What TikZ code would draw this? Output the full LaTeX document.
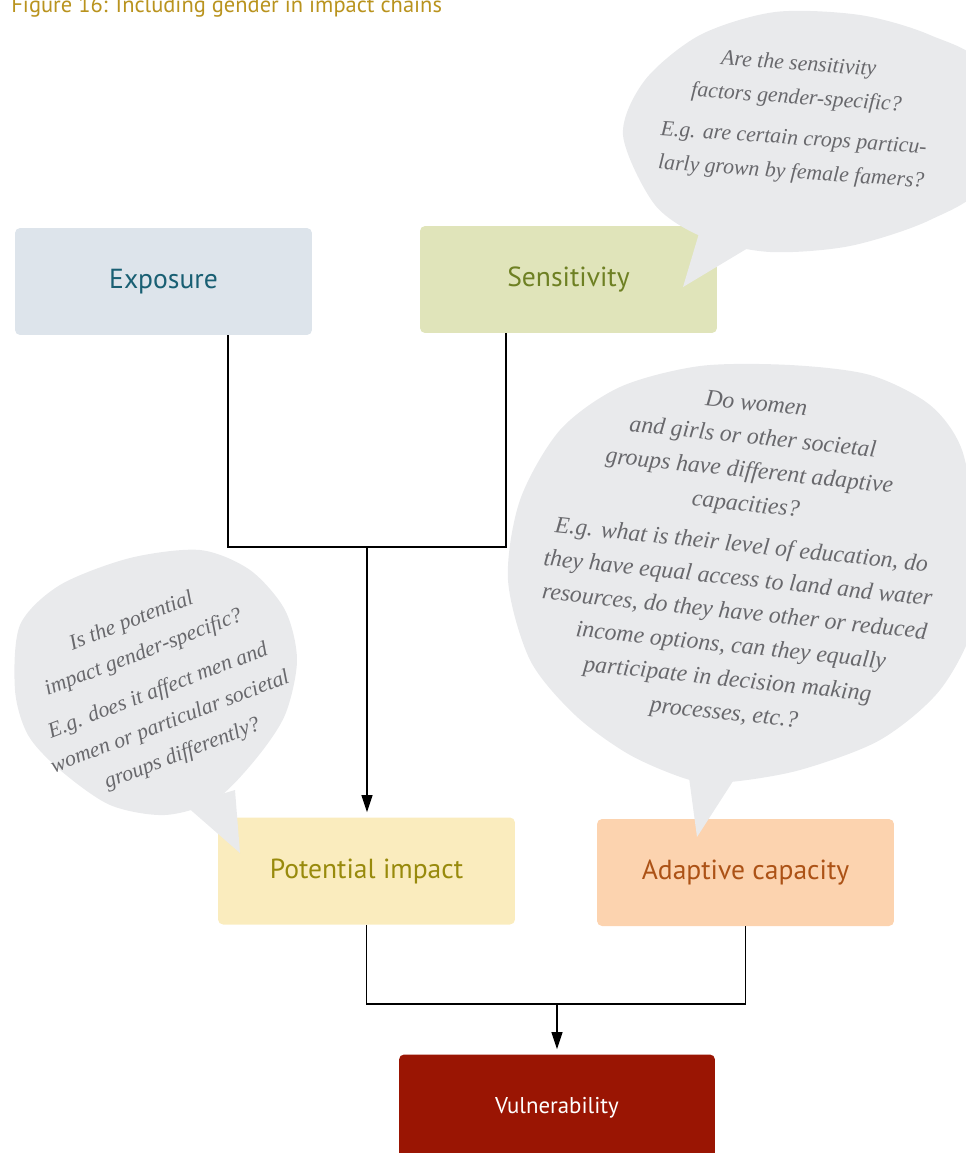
\documentclass[tikz,border=0pt]{standalone}
\usepackage{fontspec}
\setmainfont{Liberation Serif}
\newfontfamily\boxfont{PT Sans}
\usepackage{tikz}
\usetikzlibrary{arrows.meta}
\definecolor{ex}{RGB}{221,228,235}
\definecolor{exd}{RGB}{25,95,115}
\definecolor{se}{RGB}{224,228,186}
\definecolor{sed}{RGB}{110,128,35}
\definecolor{po}{RGB}{250,236,190}
\definecolor{pod}{RGB}{152,138,12}
\definecolor{ad}{RGB}{252,211,175}
\definecolor{add}{RGB}{172,82,22}
\definecolor{vu}{RGB}{154,21,3}
\definecolor{bb}{RGB}{233,234,236}
\definecolor{bbt}{RGB}{104,104,108}
\definecolor{ti}{RGB}{185,147,30}
\def\bubfont{\fontsize{13.5}{19.2}\selectfont\itshape}
\def\smbubfont{\fontsize{12.4}{19.2}\selectfont\itshape}
\def\labfont{\boxfont\fontsize{15.7}{18}\selectfont}
\tikzset{
  box/.style={rounded corners=0.1cm, minimum width=5.94cm, minimum height=2.14cm, inner sep=0pt, font=\labfont},
  bub/.style={align=center, text=bbt, font=\bubfont},
  arr/.style={-{Triangle[length=0.34cm,width=0.22cm]}, shorten >=0.1cm},
  ln/.style={line width=0.6pt}
}

\begin{document}
\begin{tikzpicture}[x=0.02cm,y=-0.02cm]
\useasboundingbox (0,0) rectangle (966,1153);
\node[anchor=base west, inner sep=0pt, text=ti, font=\boxfont\fontsize{12.8}{14}\selectfont] (title) at (11,12) {Figure 16: Including gender in impact chains};
\node[box, fill=ex, text=exd] (expo) at (163.5,281.5) {Exposure};
\node[box, fill=se, text=sed] (sens) at (568.5,279.5) {Sensitivity};
\node[box, fill=po, text=pod] (pot) at (366.5,871) {Potential impact};
\node[box, fill=ad, text=add] (adap) at (745.5,872.5) {Adaptive capacity};
\node[box, fill=vu, text=white, minimum width=6.32cm, font=\boxfont\fontsize{13}{15}\selectfont] (vul) at (557,1108) {Vulnerability};
\coordinate (j1) at (367,547);
\coordinate (j2) at (557,1004);
\draw[ln] ([xshift=1.29cm]expo.south) |- (j1) -| ([xshift=-1.25cm]sens.south);
\draw[ln,arr] (j1) -- (j1 |- pot.north);
\draw[ln] (pot.south) |- (j2) -| (adap.south);
\draw[ln,arr] (j2) -- (j2 |- vul.north);
\fill[bb] plot[smooth cycle] coordinates {(623,135) (645,80) (700,35) (775,12) (860,15) (930,35) (985,70) (985,180) (930,220) (850,246) (770,252) (705,238) (655,205)};
\fill[bb] (700,230) -- (683,287) -- (748,248) -- cycle;
\fill[bb] plot[smooth cycle] coordinates {(15,690) (20,625) (60,585) (130,558) (200,550) (250,570) (285,610) (297,660) (285,715) (255,760) (215,800) (165,815) (110,805) (60,770) (28,735)};
\fill[bb] (185,805) -- (240,853) -- (235,790) -- cycle;
\fill[bb] plot[smooth cycle] coordinates {(508,580) (520,500) (560,430) (620,387) (700,366) (790,365) (870,375) (930,405) (962,450) (975,530) (975,620) (940,690) (880,740) (800,770) (730,782) (690,780) (630,755) (575,715) (530,660)};
\fill[bb] (688,770) -- (697,837) -- (735,778) -- cycle;
\node[bub, font=\smbubfont, rotate=-4] (q1) at (795,119) {Are the sensitivity\\factors gender-specific?\\[4pt]E.g. are certain crops particu-\\larly grown by female famers?};
\node[bub, font=\smbubfont, rotate=21] (q2) at (157,688) {Is the potential\\impact gender-specific?\\[4pt]E.g. does it affect men and\\women or particular societal\\groups differently?};
\node[bub, rotate=-6] (q3) at (740,560) {Do women\\and girls or other societal\\groups have different adaptive\\capacities?\\[4pt]E.g. what is their level of education, do\\they have equal access to land and water\\resources, do they have other or reduced\\income options, can they equally\\participate in decision making\\processes, etc.?};
\end{tikzpicture}
\end{document}
